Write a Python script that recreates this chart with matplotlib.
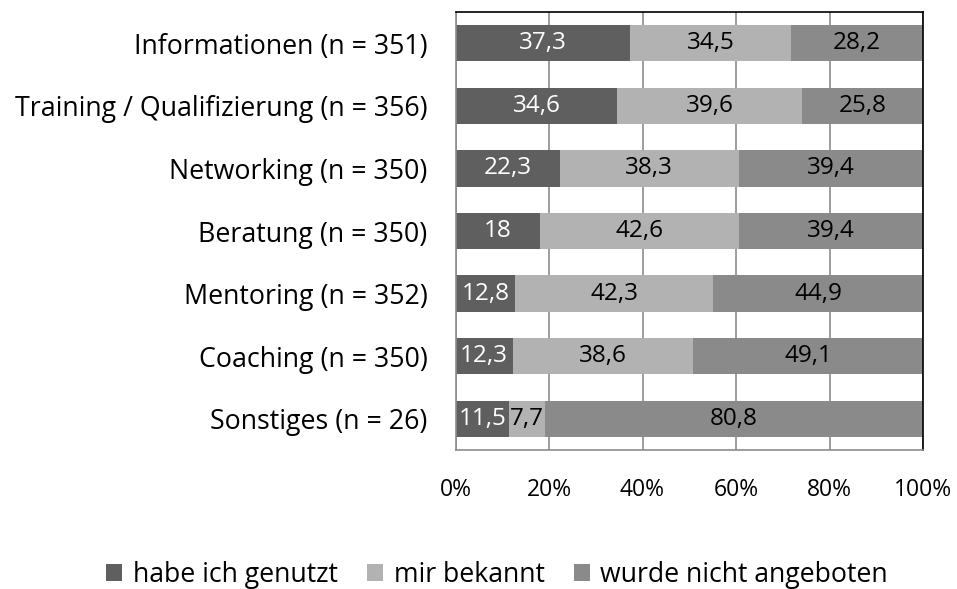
import matplotlib.pyplot as plt
import numpy as np

# ── DATA ──────────────────────────────────────────────────
categories = [
    "Informationen (n = 351)",
    "Training / Qualifizierung (n = 356)",
    "Networking (n = 350)",
    "Beratung (n = 350)",
    "Mentoring (n = 352)",
    "Coaching (n = 350)",
    "Sonstiges (n = 26)",
]
genutzt = [37.3, 34.6, 22.3, 18, 12.8, 12.3, 11.5]
bekannt = [34.5, 39.6, 38.3, 42.6, 42.3, 38.6, 7.7]
nicht_angeboten = [28.2, 25.8, 39.4, 39.4, 44.9, 49.1, 80.8]

series = [
    ("habe ich genutzt", genutzt, "#5f5f5f", "white"),
    ("mir bekannt", bekannt, "#b2b2b2", "black"),
    ("wurde nicht angeboten", nicht_angeboten, "#8a8a8a", "black"),
]

plt.rcParams["font.family"] = ["Open Sans", "DejaVu Sans"]

fig = plt.figure(figsize=(9.57, 5.89), dpi=100)
ax = fig.add_axes([455.5 / 957, 1 - 450 / 589, 467.5 / 957, 438 / 589])

y = np.arange(len(categories))
left = np.zeros(len(categories))
for name, vals, color, tcolor in series:
    vals = np.array(vals, dtype=float)
    bars = ax.barh(y, vals, left=left, height=0.58, color=color, label=name, zorder=2)
    for b, v, l in zip(bars, vals, left):
        txt = f"{v:g}".replace(".", ",")
        ax.text(l + v / 2, b.get_y() + b.get_height() / 2, txt,
                ha="center", va="center", color=tcolor, fontsize=17.5, zorder=3)
    left += vals

ax.set_xlim(0, 100)
ax.set_ylim(len(categories) - 0.5, -0.5)
ax.set_yticks(y)
ax.set_yticklabels(categories, fontsize=19.3)
ax.set_xticks([0, 20, 40, 60, 80, 100])
ax.set_xticklabels(["0%", "20%", "40%", "60%", "80%", "100%"], fontsize=16.5)
ax.tick_params(axis="both", length=0)
ax.tick_params(axis="x", pad=20)
ax.tick_params(axis="y", pad=20)
ax.grid(axis="x", color="#8c8c8c", linewidth=1.2, zorder=0)

for side in ["left", "bottom"]:
    ax.spines[side].set_color("#8c8c8c")
    ax.spines[side].set_linewidth(1.2)
for side in ["top", "right"]:
    ax.spines[side].set_color("black")
    ax.spines[side].set_linewidth(1.2)

fig.legend(loc="center", bbox_to_anchor=(497 / 957, 1 - 575 / 589), ncol=3,
           frameon=False, fontsize=19.2, handlelength=0.6, handleheight=0.6,
           handletextpad=0.4, columnspacing=1.1)

plt.savefig("out.png", dpi=100)
